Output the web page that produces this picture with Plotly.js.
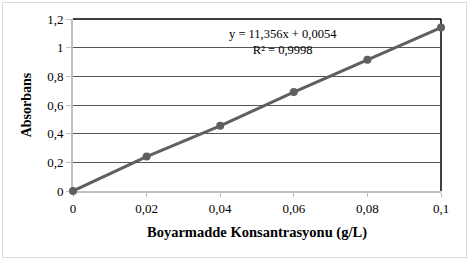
<!DOCTYPE html>
<html>
<head>
<meta charset="utf-8">
<script src="https://cdn.plot.ly/plotly-3.0.1.min.js"></script>
<style>
html,body{margin:0;padding:0;background:#fff;}
#frame{position:absolute;left:2px;top:2px;width:463px;height:254px;border:1px solid #d9d9d9;}
#chart{position:absolute;left:0;top:0;width:469px;height:262px;}
</style>
</head>
<body>
<div id="frame"></div>
<div id="chart"></div>
<script>
const concentrations = [0, 0.02, 0.04, 0.06, 0.08, 0.1];
const absorbance = [0, 0.24, 0.455, 0.69, 0.915, 1.14];
const equationText = 'y = 11,356x + 0,0054<br>R² = 0,9998';
const xTicks = [0, 0.02, 0.04, 0.06, 0.08, 0.1];
const yTicks = [0, 0.2, 0.4, 0.6, 0.8, 1, 1.2];

const fontFam = '"Liberation Serif", "Times New Roman", serif';

Plotly.newPlot('chart', [{
  x: concentrations,
  y: absorbance,
  type: 'scatter',
  mode: 'lines+markers',
  cliponaxis: false,
  line: {color: '#5f5f5f', width: 3},
  marker: {color: '#5f5f5f', size: 8},
  showlegend: false,
  hoverinfo: 'skip'
}], {
  width: 469, height: 262,
  margin: {l: 73, r: 28, t: 19, b: 71},
  paper_bgcolor: 'rgba(0,0,0,0)',
  plot_bgcolor: '#fff',
  separators: ',.',
  font: {family: fontFam, size: 13, color: '#000'},
  xaxis: {
    range: [0, 0.1],
    tickvals: xTicks,
    ticktext: xTicks.map(v => String(v).replace('.', ',')),
    showgrid: false, zeroline: false,
    showline: true, linecolor: '#bfbfbf', linewidth: 2,
    layer: 'below traces',
    ticks: 'outside', ticklen: 4, tickcolor: '#bfbfbf',
    tickfont: {family: fontFam, size: 13},
    title: {text: '<b>Boyarmadde Konsantrasyonu (g/L)</b>', font: {family: fontFam, size: 14.5}, standoff: 12}
  },
  yaxis: {
    range: [0, 1.2],
    tickvals: yTicks,
    ticktext: yTicks.map(v => String(v).replace('.', ',')),
    showgrid: true, gridcolor: '#555', gridwidth: 1,
    zeroline: false,
    showline: true, linecolor: '#bfbfbf', linewidth: 2,
    layer: 'below traces',
    ticks: 'outside', ticklen: 5, tickcolor: '#bfbfbf',
    tickfont: {family: fontFam, size: 13},
    title: {text: '<b>Absorbans</b>', font: {family: fontFam, size: 14}, standoff: 12}
  },
  shapes: [
    {type: 'line', xref: 'paper', yref: 'paper', x0: 1, x1: 1, y0: 0, y1: 1, layer: 'below', line: {color: '#000', width: 1.5}},
    {type: 'line', xref: 'paper', yref: 'paper', x0: 0, x1: 1, y0: 1, y1: 1, layer: 'below', line: {color: '#000', width: 1.5}}
  ],
  annotations: [{
    xref: 'paper', yref: 'paper', x: 0.571, y: 0.965,
    xanchor: 'center', yanchor: 'top', align: 'center',
    text: equationText, showarrow: false,
    font: {family: fontFam, size: 12.5, color: '#000'}
  }]
}, {staticPlot: true});
</script>
</body>
</html>
